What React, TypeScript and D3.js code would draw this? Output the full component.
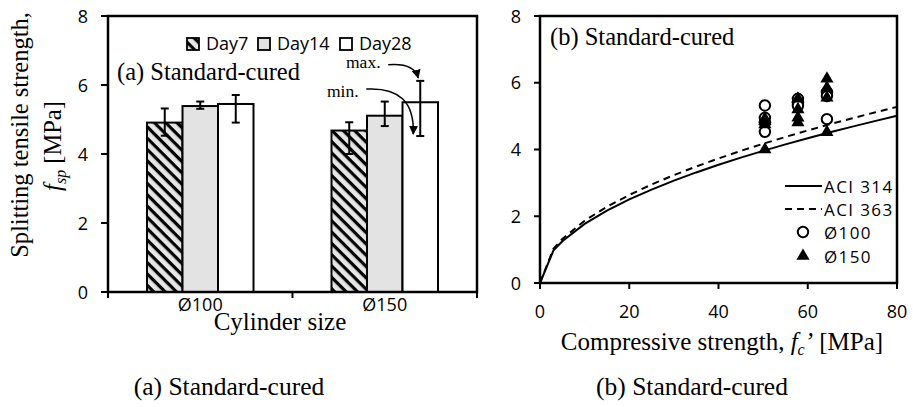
import React from "react";
import * as d3 from "d3";

// ---------- Data ----------
const categories = ["Ø100", "Ø150"];
const days = ["Day7", "Day14", "Day28"];
const meanD7 = [4.91, 4.68];
const meanD14 = [5.39, 5.11];
const meanD28 = [5.45, 5.5];
const minD7 = [4.53, 4.0];
const minD14 = [5.31, 4.81];
const minD28 = [4.91, 4.52];
const maxD7 = [5.32, 4.92];
const maxD14 = [5.52, 5.52];
const maxD28 = [5.71, 6.12];
const leftYTicks = [0, 2, 4, 6, 8];

const curveFc = [0, 3, 5, 10, 15, 20, 25, 30, 35, 40, 45, 50, 55, 60, 65, 70, 75, 80];
const aci314 = [0, 0.97, 1.252, 1.771, 2.169, 2.504, 2.8, 3.067, 3.313, 3.542, 3.757, 3.96, 4.153, 4.338, 4.515, 4.685, 4.85, 5.009];
const aci363 = [0, 1.022, 1.319, 1.866, 2.285, 2.639, 2.95, 3.232, 3.49, 3.731, 3.958, 4.172, 4.376, 4.57, 4.757, 4.936, 5.11, 5.277];

const d100Fc = [50.4, 50.4, 50.4, 50.4, 57.8, 57.8, 57.8, 64.3, 64.3, 64.3];
const d100Sp = [5.32, 4.95, 4.8, 4.53, 5.52, 5.4, 5.31, 5.71, 5.6, 4.91];
const d150Fc = [50.4, 50.4, 50.4, 50.4, 57.8, 57.8, 57.8, 57.8, 64.3, 64.3, 64.3, 64.3];
const d150Sp = [4.92, 4.85, 4.75, 4.0, 5.52, 5.2, 4.95, 4.81, 6.12, 5.85, 5.55, 4.52];
const rightXTicks = [0, 20, 40, 60, 80];
const rightYTicks = [0, 2, 4, 6, 8];
const rightLegend = ["ACI 314", "ACI 363", "Ø100", "Ø150"];

const SANS = "'Open Sans', sans-serif";
const SERIF = "'Liberation Serif', 'Times New Roman', serif";

export default function App() {
  // Left chart scales
  const xL = d3.scaleBand<string>().domain(categories).range([108, 477]).padding(0);
  const yL = d3.scaleLinear().domain([0, 8]).range([292, 16]);
  const groupW = 106.5;
  const xInner = d3.scaleBand<string>().domain(days).range([0, groupW]).padding(0);

  const means = [meanD7, meanD14, meanD28];
  const mins = [minD7, minD14, minD28];
  const maxs = [maxD7, maxD14, maxD28];
  const fills = ["url(#hatch)", "#e3e3e3", "#ffffff"];

  // Right chart scales
  const xR = d3.scaleLinear().domain([0, 80]).range([540, 897]);
  const yR = d3.scaleLinear().domain([0, 8]).range([283, 16]);
  const line = d3
    .line<[number, number]>()
    .x((d) => xR(d[0]))
    .y((d) => yR(d[1]));
  const p314 = line(curveFc.map((f, i) => [f, aci314[i]]) as [number, number][]) || "";
  const p363 = line(curveFc.map((f, i) => [f, aci363[i]]) as [number, number][]) || "";
  const tri = d3.symbol().type(d3.symbolTriangle).size(75)() || "";

  const barX = (ci: number, di: number) =>
    (xL(categories[ci]) as number) + xL.bandwidth() / 2 - groupW / 2 + (xInner(days[di]) as number);
  const bw = xInner.bandwidth();

  // annotation anchor (Ø150, Day28)
  const axC = barX(1, 2) + bw / 2;
  const maxTipX = axC - 2;
  const maxTipY = yL(maxD28[1]) - 3;
  const minTipX = axC - 7;
  const minTipY = yL(minD28[1]) - 2;

  const leftLegX = [187, 258, 340];
  const rightLegY = [186, 209, 232, 256];

  return (
    <svg
      width={913}
      height={407}
      style={{ position: "absolute", left: 0, top: 0, background: "#fff" }}
    >
      <defs>
        <pattern id="hatch" patternUnits="userSpaceOnUse" width={8} height={8} patternTransform="rotate(45)">
          <rect width={8} height={8} fill="#e6e6e6" />
          <rect x={0} y={0} width={8} height={3.2} fill="#000" />
        </pattern>
        <marker id="arrow" viewBox="0 0 10 10" refX={9} refY={5} markerWidth={6} markerHeight={6} orient="auto">
          <path d="M0,0 L10,5 L0,10 z" fill="#000" />
        </marker>
      </defs>

      {/* ================= LEFT CHART ================= */}
      {categories.map((c, ci) =>
        days.map((d, di) => (
          <rect
            key={c + d}
            x={barX(ci, di)}
            y={yL(means[di][ci])}
            width={bw}
            height={yL(0) - yL(means[di][ci])}
            fill={fills[di]}
            stroke="#000"
            strokeWidth={2}
          />
        ))
      )}
      {categories.map((c, ci) =>
        days.map((d, di) => {
          const cx = barX(ci, di) + bw / 2;
          return (
            <g key={"e" + c + d} stroke="#000" strokeWidth={2}>
              <line x1={cx} x2={cx} y1={yL(maxs[di][ci])} y2={yL(mins[di][ci])} />
              <line x1={cx - 4} x2={cx + 4} y1={yL(maxs[di][ci])} y2={yL(maxs[di][ci])} />
              <line x1={cx - 4} x2={cx + 4} y1={yL(mins[di][ci])} y2={yL(mins[di][ci])} />
            </g>
          );
        })
      )}
      <rect x={108} y={16} width={477 - 108} height={292 - 16} fill="none" stroke="#000" strokeWidth={2.5} />
      {leftYTicks.map((t) => (
        <g key={"ly" + t}>
          <line x1={101} x2={108} y1={yL(t)} y2={yL(t)} stroke="#000" strokeWidth={2} />
          <text x={83} y={yL(t) + 6.5} textAnchor="middle" fontFamily={SANS} fontSize={18}>
            {t}
          </text>
        </g>
      ))}
      {[108, 108 + xL.bandwidth(), 477].map((x, i) => (
        <line key={"lx" + i} x1={x} x2={x} y1={292} y2={298} stroke="#000" strokeWidth={2} />
      ))}
      {categories.map((c) => (
        <text
          key={"lc" + c}
          x={(xL(c) as number) + xL.bandwidth() / 2}
          y={311}
          textAnchor="middle"
          fontFamily={SANS}
          fontSize={18}
        >
          {c}
        </text>
      ))}
      <text x={280} y={330} textAnchor="middle" fontFamily={SERIF} fontSize={25}>
        Cylinder size
      </text>
      <text transform="translate(28,135) rotate(-90)" textAnchor="middle" fontFamily={SERIF} fontSize={24.5}>
        Splitting tensile strength,
      </text>
      <text transform="translate(61,146) rotate(-90)" textAnchor="middle" fontFamily={SERIF} fontSize={24.5}>
        <tspan fontStyle="italic">f</tspan>
        <tspan fontStyle="italic" fontSize={16} dy={5}>
          sp
        </tspan>
        <tspan dy={-5}> [MPa]</tspan>
      </text>
      {days.map((d, i) => (
        <g key={"lg" + d}>
          <rect x={leftLegX[i]} y={38} width={12} height={12} fill={fills[i]} stroke="#000" strokeWidth={1.8} />
          <text x={leftLegX[i] + 19} y={50} fontFamily={SANS} fontSize={18}>
            {d}
          </text>
        </g>
      ))}
      <text x={117} y={80} fontFamily={SERIF} fontSize={24.5}>
        (a) Standard-cured
      </text>
      <text x={346} y={68} fontFamily={SERIF} fontSize={17.5}>
        max.
      </text>
      <text x={327} y={97} fontFamily={SERIF} fontSize={17.5}>
        min.
      </text>
      <path
        d={`M${maxTipX - 30},${maxTipY - 13} Q${maxTipX - 4},${maxTipY - 15} ${maxTipX},${maxTipY}`}
        fill="none"
        stroke="#000"
        strokeWidth={1.5}
        markerEnd="url(#arrow)"
      />
      <path
        d={`M${minTipX - 47},${minTipY - 45} Q${minTipX + 2},${minTipY - 48} ${minTipX},${minTipY}`}
        fill="none"
        stroke="#000"
        strokeWidth={1.5}
        markerEnd="url(#arrow)"
      />

      {/* ================= RIGHT CHART ================= */}
      <path d={p314} fill="none" stroke="#000" strokeWidth={2} />
      <path d={p363} fill="none" stroke="#000" strokeWidth={2} strokeDasharray="7,5" />
      {d100Fc.map((f, i) => (
        <circle key={"c" + i} cx={xR(f)} cy={yR(d100Sp[i])} r={5.2} fill="#fff" stroke="#000" strokeWidth={2} />
      ))}
      {d150Fc.map((f, i) => (
        <path key={"t" + i} d={tri} transform={`translate(${xR(f)},${yR(d150Sp[i])})`} fill="#000" />
      ))}
      <rect x={540} y={16} width={897 - 540} height={283 - 16} fill="none" stroke="#000" strokeWidth={2.5} />
      {rightYTicks.map((t) => (
        <g key={"ry" + t}>
          <line x1={534} x2={540} y1={yR(t)} y2={yR(t)} stroke="#000" strokeWidth={2} />
          <text x={516} y={yR(t) + 6.5} textAnchor="middle" fontFamily={SANS} fontSize={18}>
            {t}
          </text>
        </g>
      ))}
      {rightXTicks.map((t) => (
        <g key={"rx" + t}>
          <line x1={xR(t)} x2={xR(t)} y1={283} y2={289} stroke="#000" strokeWidth={2} />
          <text x={xR(t)} y={318} textAnchor="middle" fontFamily={SANS} fontSize={18}>
            {t}
          </text>
        </g>
      ))}
      <text x={722} y={350} textAnchor="middle" fontFamily={SERIF} fontSize={25}>
        Compressive strength,{" "}
        <tspan fontStyle="italic">f</tspan>
        <tspan fontStyle="italic" fontSize={16} dy={5}>
          c
        </tspan>
        <tspan fontStyle="italic" dy={-5}>
          ’
        </tspan>
        <tspan> [MPa]</tspan>
      </text>
      <text x={550} y={45} fontFamily={SERIF} fontSize={24.5}>
        (b) Standard-cured
      </text>
      <line x1={785} x2={822} y1={rightLegY[0]} y2={rightLegY[0]} stroke="#000" strokeWidth={2} />
      <line x1={785} x2={822} y1={rightLegY[1]} y2={rightLegY[1]} stroke="#000" strokeWidth={2} strokeDasharray="7,5" />
      <circle cx={803} cy={rightLegY[2]} r={5.2} fill="#fff" stroke="#000" strokeWidth={2} />
      <path d={tri} transform={`translate(803,${rightLegY[3]})`} fill="#000" />
      {rightLegend.map((s, i) => (
        <text key={s} x={824} y={rightLegY[i] + 6.5} fontFamily={SANS} fontSize={17} letterSpacing={1.4}>
          {s}
        </text>
      ))}

      {/* captions */}
      <text x={229} y={395} textAnchor="middle" fontFamily={SERIF} fontSize={25.5}>
        (a) Standard-cured
      </text>
      <text x={692} y={395} textAnchor="middle" fontFamily={SERIF} fontSize={25.5}>
        (b) Standard-cured
      </text>
    </svg>
  );
}
